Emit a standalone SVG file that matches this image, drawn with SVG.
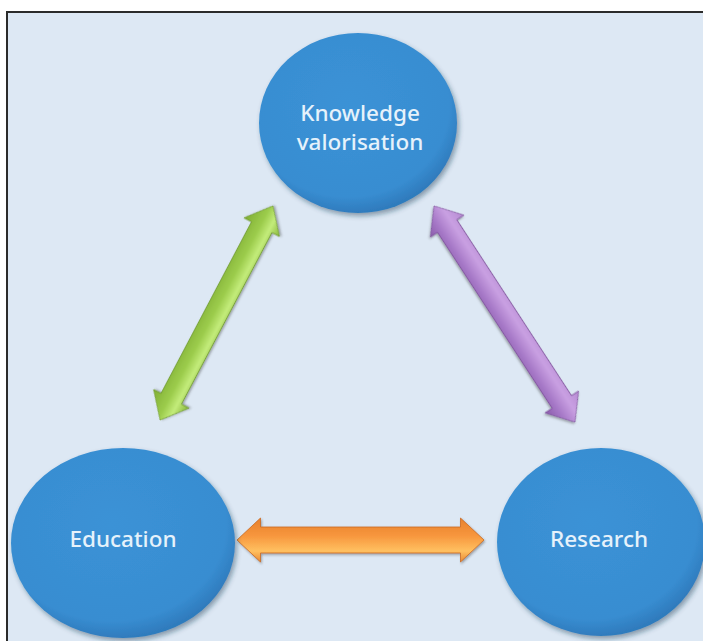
<svg xmlns="http://www.w3.org/2000/svg" width="703" height="641" viewBox="0 0 703 641">
<defs>
<style>
.node-c{fill:url(#gBlue);filter:url(#sh);}
.lbl{font-family:"Noto Sans","Open Sans","DejaVu Sans",sans-serif;font-size:22.5px;font-weight:500;fill:#e6f2fb;text-anchor:middle;}
.frame{fill:none;stroke:#2b2b2b;stroke-width:2;}
</style>
<radialGradient id="gBlue" cx="0.45" cy="0.4" r="0.6">
<stop offset="0" stop-color="#3b92d6"/>
<stop offset="0.85" stop-color="#388dd1"/>
<stop offset="1" stop-color="#2f7bbd"/>
</radialGradient>
<linearGradient id="gGreen" x1="0" y1="0" x2="0" y2="1">
<stop offset="0" stop-color="#7fae34"/>
<stop offset="0.45" stop-color="#9ccc4c"/>
<stop offset="0.7" stop-color="#c3ec7a"/>
<stop offset="1" stop-color="#86b63a"/>
</linearGradient>
<linearGradient id="gPurple" x1="0" y1="0" x2="0" y2="1">
<stop offset="0" stop-color="#b58ad2"/>
<stop offset="0.35" stop-color="#c9a0e2"/>
<stop offset="0.7" stop-color="#a577c6"/>
<stop offset="1" stop-color="#8a5cab"/>
</linearGradient>
<linearGradient id="gOrange" x1="0" y1="0" x2="0" y2="1">
<stop offset="0" stop-color="#e7812d"/>
<stop offset="0.4" stop-color="#f7963d"/>
<stop offset="0.75" stop-color="#ffc060"/>
<stop offset="1" stop-color="#e98a35"/>
</linearGradient>
<filter id="sh" x="-10%" y="-10%" width="125%" height="125%">
<feDropShadow dx="2" dy="3" stdDeviation="2.5" flood-color="#1d3b55" flood-opacity="0.45"/>
</filter>
<filter id="ash" x="-10%" y="-30%" width="120%" height="160%">
<feDropShadow dx="1" dy="1.5" stdDeviation="1.2" flood-color="#333" flood-opacity="0.4"/>
</filter>
</defs>
<rect x="0" y="0" width="703" height="641" fill="#ffffff"/>
<rect x="7" y="12" width="696" height="629" fill="#dde8f4"/>
<path class="frame" d="M7 641 L7 12 L703 12"/>

<g id="connectors">
<g id="edu-know" transform="translate(216.5,313) rotate(-62.2)">
<path d="M-121 0 L-97 -20 L-97 -11.5 L97 -11.5 L97 -20 L121 0 L97 20 L97 11.5 L-97 11.5 L-97 20 Z" fill="url(#gGreen)" stroke="#6f9a2c" stroke-width="0.8" filter="url(#ash)"/>
</g>
<g id="know-res" transform="translate(504.5,314) rotate(56.9)">
<path d="M-129 0 L-105 -20 L-105 -11.5 L105 -11.5 L105 -20 L129 0 L105 20 L105 11.5 L-105 11.5 L-105 20 Z" fill="url(#gPurple)" stroke="#7d519c" stroke-width="0.8" filter="url(#ash)"/>
</g>
<g id="edu-res" transform="translate(360.5,540)">
<path d="M-123.5 0 L-100 -22 L-100 -13 L100 -13 L100 -22 L123.5 0 L100 22 L100 13 L-100 13 L-100 22 Z" fill="url(#gOrange)" stroke="#c96a22" stroke-width="0.8" filter="url(#ash)"/>
</g>
</g>

<g id="knowledge">
<ellipse class="node-c" cx="358" cy="123" rx="99" ry="90"/>
<text class="lbl" x="360" y="121">Knowledge</text>
<text class="lbl" x="360" y="150">valorisation</text>
</g>
<g id="education">
<ellipse class="node-c" cx="123" cy="543" rx="112" ry="95"/>
<text class="lbl" x="123" y="547">Education</text>
</g>
<g id="research">
<ellipse class="node-c" cx="601" cy="542" rx="104" ry="94"/>
<text class="lbl" x="599" y="547">Research</text>
</g>
</svg>
